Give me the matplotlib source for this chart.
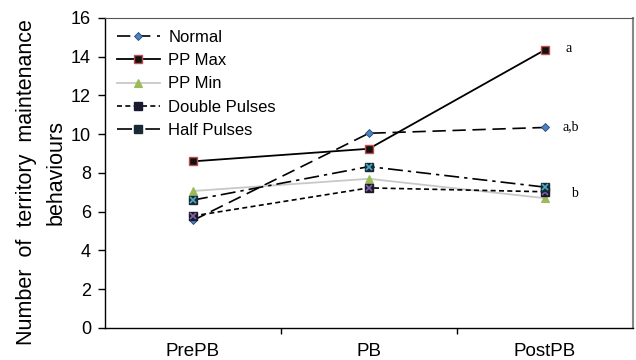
import matplotlib
matplotlib.use("Agg")
import matplotlib.pyplot as plt
from matplotlib.ticker import FixedLocator

plt.rcParams['font.family'] = ['Liberation Sans', 'DejaVu Sans']

categories = ["PrePB", "PB", "PostPB"]
normal = [5.55, 10.05, 10.35]
pp_max = [8.6, 9.25, 14.35]
pp_min = [7.07, 7.7, 6.7]
double_pulses = [5.78, 7.23, 7.03]
half_pulses = [6.6, 8.33, 7.27]
sig_labels = ["a", "a,b", "b"]
sig_values = [14.45, 10.38, 6.92]

fig = plt.figure(figsize=(6.36, 3.6), dpi=100)
ax = fig.add_axes([0.165, 0.089, 0.83, 0.861])
x = list(range(len(categories)))

ax.plot(x, normal, color='black', lw=1.2, dashes=(8, 4), marker='D', ms=4,
        mfc='#4F81BD', mec='#1F497D', mew=0.6, label='Normal')
ax.plot(x, pp_max, color='black', lw=1.3, ls='-', marker='s', ms=6,
        mfc='#111111', mec='#C0504D', mew=1.0, label='PP Max')
ax.plot(x, pp_min, color='#C8C8C8', lw=1.3, ls='-', marker='^', ms=6,
        mfc='#9BBB59', mec='#9BBB59', mew=0.8, label='PP Min')
ax.plot(x, double_pulses, color='black', lw=1.2, dashes=(3, 2), marker='s', ms=6,
        mfc='#1a1a2e', mec='#1a1a2e', label='Double Pulses')
ax.plot(x, double_pulses, ls='none', marker='x', ms=5, mec='#8064A2', mew=1.2)
ax.plot(x, half_pulses, color='black', lw=1.2, dashes=(9, 3, 2, 3), marker='s', ms=6,
        mfc='#1a2a35', mec='#1a2a35', label='Half Pulses')
ax.plot(x, half_pulses, ls='none', marker='x', ms=5, mec='#4BACC6', mew=1.2)

for lab, val, dx in zip(sig_labels, sig_values, [0.12, 0.1, 0.15]):
    ax.text(2 + dx, val, lab, family=['Liberation Serif', 'DejaVu Serif'],
            fontsize=10, va='center', ha='left')

ax.set_xlim(-0.5, 2.5)
ax.set_ylim(0, 16)
ax.set_yticks(range(0, 17, 2))
ax.set_xticks(x)
ax.set_xticklabels(categories, fontsize=13.5)
ax.tick_params(axis='x', which='major', length=0, pad=11)
ax.xaxis.set_minor_locator(FixedLocator([0.5, 1.5]))
ax.tick_params(axis='x', which='minor', length=4, direction='out', width=1)
ax.tick_params(axis='y', labelsize=13, length=5, direction='out', width=1, pad=5)

ax.spines['left'].set_linewidth(1.0)
ax.spines['bottom'].set_linewidth(1.0)
ax.spines['top'].set_color('#555555')
ax.spines['right'].set_color('#888888')
ax.spines['right'].set_linewidth(1.5)

fig.text(27 / 636, 1 - 182 / 360, "Number  of  territory  maintenance", rotation=90,
         fontsize=15.5, ha='center', va='center')
fig.text(56 / 636, 1 - 172 / 360, "behaviours", rotation=90,
         fontsize=15.5, ha='center', va='center')

handles, labels = ax.get_legend_handles_labels()
leg = ax.legend(handles, labels, loc='upper left', bbox_to_anchor=(0.0, 1.0),
                frameon=False, fontsize=12, handlelength=2.6, handletextpad=0.5,
                labelspacing=0.5, borderaxespad=0.3)

fig.savefig("out.png", dpi=100)
